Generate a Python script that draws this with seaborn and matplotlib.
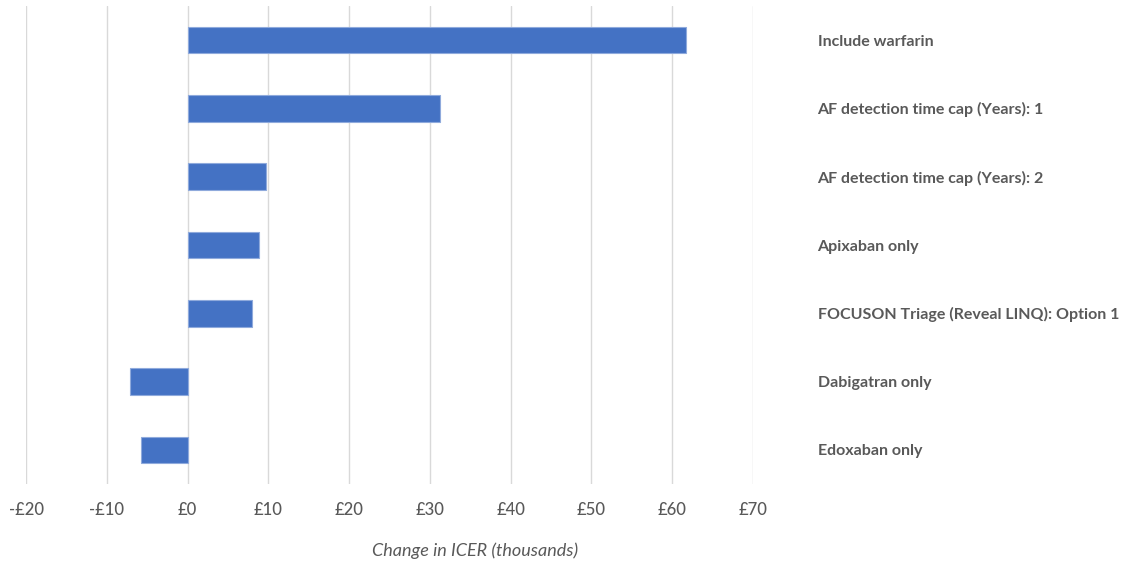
import matplotlib
matplotlib.use("Agg")
import matplotlib.pyplot as plt
import seaborn as sns
import pandas as pd

scenarios = [
    "Include warfarin",
    "AF detection time cap (Years): 1",
    "AF detection time cap (Years): 2",
    "Apixaban only",
    "FOCUSON Triage (Reveal LINQ): Option 1",
    "Dabigatran only",
    "Edoxaban only",
]
icer_change = [61.7, 31.3, 9.7, 8.8, 8.0, -7.1, -5.8]
x_ticks = [-20, -10, 0, 10, 20, 30, 40, 50, 60, 70]
x_tick_labels = ["-£20", "-£10", "£0", "£10", "£20", "£30", "£40", "£50", "£60", "£70"]

df = pd.DataFrame({"scenario": scenarios, "change": icer_change})

sns.set_theme(style="white")
plt.rcParams["font.family"] = ["Lato", "DejaVu Sans"]

W, H = 1126, 565
fig = plt.figure(figsize=(W / 100, H / 100), dpi=100)
left, right, top, bottom = 26, 753, 6, 484
ax = fig.add_axes([left / W, 1 - bottom / H, (right - left) / W, (bottom - top) / H])

sns.barplot(data=df, x="change", y="scenario", orient="h", color="#4472C4",
            width=0.39, saturation=1, edgecolor="#8FAADC", linewidth=0.8, ax=ax)

ax.set_xlim(-20, 70)
ax.set_ylim(len(scenarios) - 0.5, -0.5)
ax.set_xticks(x_ticks)
ax.set_xticklabels(x_tick_labels, fontsize=12, color="#595959", fontweight="medium")
for v in x_ticks:
    ax.axvline(v, color="#D9D9D9", linewidth=1.0, zorder=0)
ax.grid(False)
for s in ax.spines.values():
    s.set_visible(False)

ax.yaxis.tick_right()
ax.tick_params(axis="y", length=0, pad=46.5)
ax.tick_params(axis="x", length=0, pad=13)
ax.set_yticks(range(len(scenarios)))
ax.set_yticklabels(scenarios, fontsize=11.5, color="#595959", fontweight="bold", ha="left")
ax.set_xlabel("")
ax.set_ylabel("")

fig.text(475 / W, 1 - 551 / H, "Change in ICER (thousands)", ha="center", va="center",
         fontsize=13, style="italic", color="#595959")

fig.savefig("out.png", dpi=100, facecolor="white")
